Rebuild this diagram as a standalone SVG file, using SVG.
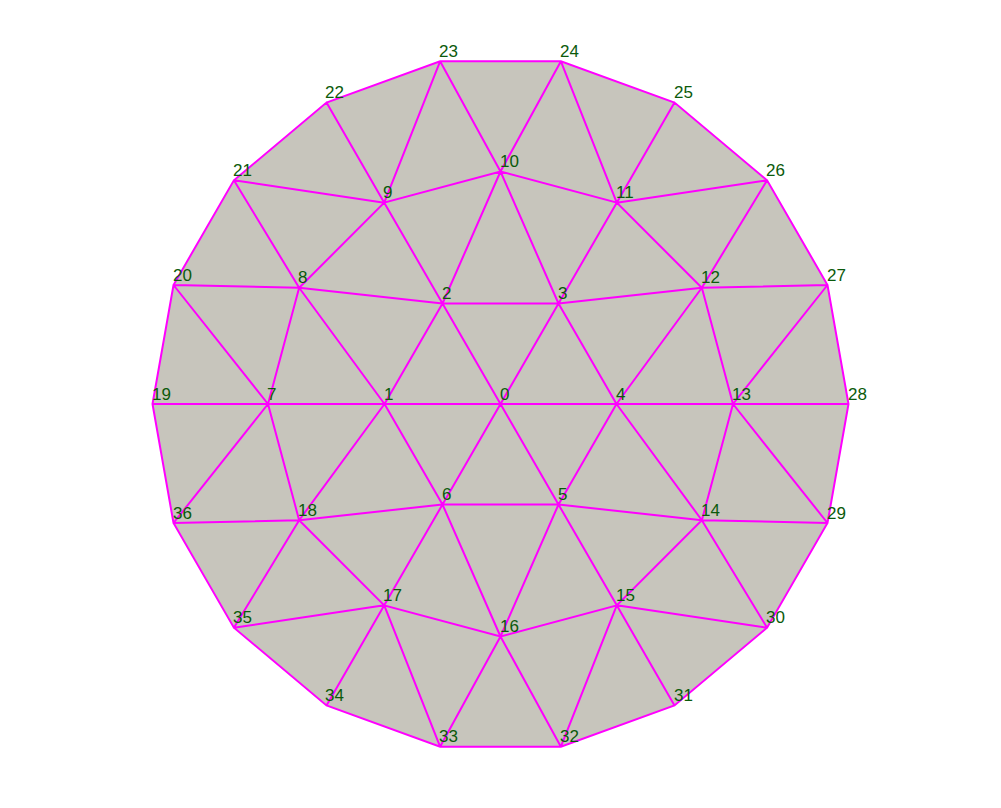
<svg xmlns="http://www.w3.org/2000/svg" width="1001" height="808" viewBox="0 0 1001 808">
<style>
.e{stroke:#ff00ff;stroke-width:2;fill:none;stroke-linecap:round}
.f{fill:#c7c5bc;stroke:none}
text{font-family:"Liberation Sans","DejaVu Sans",sans-serif;font-size:17px;fill:#0b5a0b}
</style>
<rect width="1001" height="808" fill="#ffffff"/>
<polygon class="f" points="152.5,404 173.5,285 233.9,180.3 326.5,102.6 440.1,61.3 560.9,61.3 674.5,102.6 767.1,180.3 827.5,285 848.5,404 827.5,523 767.1,627.7 674.5,705.4 560.9,746.7 440.1,746.7 326.5,705.4 233.9,627.7 173.5,523"/>
<g id="connectors">
<path class="e" d="M500.5,404L384.5,404M500.5,404L442.5,303.5M500.5,404L558.5,303.5M500.5,404L616.5,404M500.5,404L558.5,504.5M500.5,404L442.5,504.5
M384.5,404L442.5,303.5L558.5,303.5L616.5,404L558.5,504.5L442.5,504.5Z
M384.5,404L268,404M384.5,404L299.15,287.75M442.5,303.5L299.15,287.75M442.5,303.5L384.25,202.65M442.5,303.5L500.5,171.5
M558.5,303.5L500.5,171.5M558.5,303.5L616.75,202.65M558.5,303.5L701.85,287.75
M616.5,404L701.85,287.75M616.5,404L733,404M616.5,404L701.85,520.25
M558.5,504.5L701.85,520.25M558.5,504.5L616.75,605.35M558.5,504.5L500.5,636.5
M442.5,504.5L500.5,636.5M442.5,504.5L384.25,605.35M442.5,504.5L299.15,520.25M384.5,404L299.15,520.25
M268,404L299.15,287.75L384.25,202.65L500.5,171.5L616.75,202.65L701.85,287.75L733,404L701.85,520.25L616.75,605.35L500.5,636.5L384.25,605.35L299.15,520.25Z
M268,404L152.5,404M268,404L173.5,285M268,404L173.5,523
M299.15,287.75L173.5,285M299.15,287.75L233.9,180.3
M384.25,202.65L233.9,180.3M384.25,202.65L326.5,102.6M384.25,202.65L440.1,61.3
M500.5,171.5L440.1,61.3M500.5,171.5L560.9,61.3
M616.75,202.65L560.9,61.3M616.75,202.65L674.5,102.6M616.75,202.65L767.1,180.3
M701.85,287.75L767.1,180.3M701.85,287.75L827.5,285
M733,404L827.5,285M733,404L848.5,404M733,404L827.5,523
M701.85,520.25L827.5,523M701.85,520.25L767.1,627.7
M616.75,605.35L767.1,627.7M616.75,605.35L674.5,705.4M616.75,605.35L560.9,746.7
M500.5,636.5L560.9,746.7M500.5,636.5L440.1,746.7
M384.25,605.35L440.1,746.7M384.25,605.35L326.5,705.4M384.25,605.35L233.9,627.7
M299.15,520.25L233.9,627.7M299.15,520.25L173.5,523
M152.5,404L173.5,285L233.9,180.3L326.5,102.6L440.1,61.3L560.9,61.3L674.5,102.6L767.1,180.3L827.5,285L848.5,404L827.5,523L767.1,627.7L674.5,705.4L560.9,746.7L440.1,746.7L326.5,705.4L233.9,627.7L173.5,523Z"/>
</g>
<g id="n0"><text x="500" y="400">0</text></g>
<g id="n1"><text x="384" y="400">1</text></g>
<g id="n2"><text x="442" y="299">2</text></g>
<g id="n3"><text x="558" y="299">3</text></g>
<g id="n4"><text x="616" y="400">4</text></g>
<g id="n5"><text x="558" y="500">5</text></g>
<g id="n6"><text x="442" y="500">6</text></g>
<g id="n7"><text x="267" y="400">7</text></g>
<g id="n8"><text x="298" y="283">8</text></g>
<g id="n9"><text x="383" y="198">9</text></g>
<g id="n10"><text x="500" y="167">10</text></g>
<g id="n11"><text x="616" y="198">11</text></g>
<g id="n12"><text x="701" y="283">12</text></g>
<g id="n13"><text x="732" y="400">13</text></g>
<g id="n14"><text x="701" y="516">14</text></g>
<g id="n15"><text x="616" y="601">15</text></g>
<g id="n16"><text x="500" y="632">16</text></g>
<g id="n17"><text x="383" y="601">17</text></g>
<g id="n18"><text x="298" y="516">18</text></g>
<g id="n19"><text x="152" y="400">19</text></g>
<g id="n20"><text x="173" y="281">20</text></g>
<g id="n21"><text x="233" y="176">21</text></g>
<g id="n22"><text x="325" y="98">22</text></g>
<g id="n23"><text x="439" y="57">23</text></g>
<g id="n24"><text x="560" y="57">24</text></g>
<g id="n25"><text x="674" y="98">25</text></g>
<g id="n26"><text x="766" y="176">26</text></g>
<g id="n27"><text x="827" y="281">27</text></g>
<g id="n28"><text x="848" y="400">28</text></g>
<g id="n29"><text x="827" y="519">29</text></g>
<g id="n30"><text x="766" y="623">30</text></g>
<g id="n31"><text x="674" y="701">31</text></g>
<g id="n32"><text x="560" y="742">32</text></g>
<g id="n33"><text x="439" y="742">33</text></g>
<g id="n34"><text x="325" y="701">34</text></g>
<g id="n35"><text x="233" y="623">35</text></g>
<g id="n36"><text x="173" y="519">36</text></g>
</svg>
